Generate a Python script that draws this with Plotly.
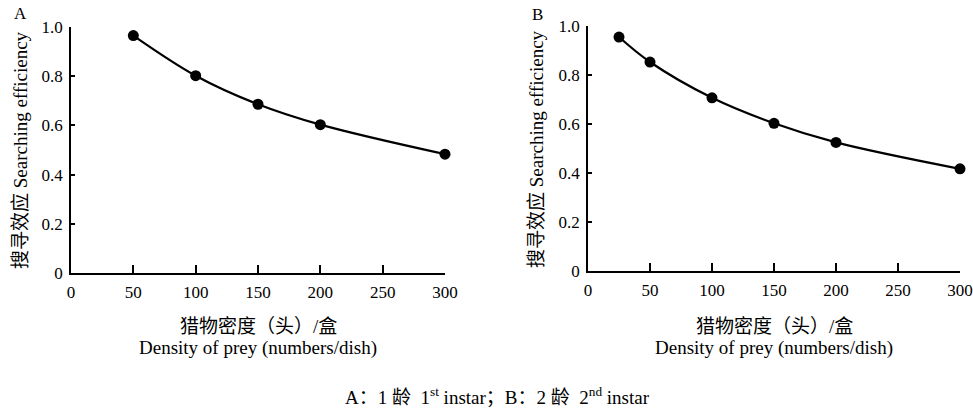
import plotly.graph_objects as go

# Data
density_a = [50, 100, 150, 200, 300]
eff_a = [0.965, 0.802, 0.686, 0.603, 0.483]
density_b = [25, 50, 100, 150, 200, 300]
eff_b = [0.955, 0.853, 0.707, 0.603, 0.525, 0.417]

x_ticks = [0, 50, 100, 150, 200, 250, 300]
y_ticks = [0, 0.2, 0.4, 0.6, 0.8, 1.0]
y_ticktext = ["0", "0.2", "0.4", "0.6", "0.8", "1.0"]

FONT = "Liberation Serif, Times New Roman, Noto Sans CJK SC, serif"

fig = go.Figure()
for xs, ys, xa, ya in [(density_a, eff_a, "x", "y"), (density_b, eff_b, "x2", "y2")]:
    fig.add_trace(go.Scatter(
        x=xs, y=ys, xaxis=xa, yaxis=ya, mode="lines+markers",
        line=dict(color="black", width=2.2, shape="spline", smoothing=1.0),
        marker=dict(color="black", size=11),
        cliponaxis=False, showlegend=False))

W, H = 973, 412
def px_x(p):
    return p / W
def px_y(p):
    return 1 - p / H

axis_common = dict(showline=True, linecolor="black", linewidth=1.5, showgrid=False,
                   zeroline=False, automargin=False, ticklabelstandoff=3,
                   tickfont=dict(family=FONT, size=17, color="black"),
                   tickcolor="black")

fig.update_layout(
    width=W, height=H, margin=dict(l=0, r=0, t=0, b=0),
    plot_bgcolor="white", paper_bgcolor="white",
    font=dict(family=FONT, color="black"),
    xaxis=dict(domain=[px_x(71), px_x(445)], range=[0, 300], tickvals=x_ticks,
               ticks="inside", ticklen=8, tickwidth=1.5, anchor="y", **axis_common),
    yaxis=dict(domain=[px_y(273), px_y(27)], range=[0, 1.0], tickvals=y_ticks,
               ticktext=y_ticktext, ticks="inside", ticklen=4, tickwidth=1.5,
               anchor="x", **axis_common),
    xaxis2=dict(domain=[px_x(588), px_x(960)], range=[0, 300], tickvals=x_ticks,
                ticks="inside", ticklen=8, tickwidth=1.5, anchor="y2", **axis_common),
    yaxis2=dict(domain=[px_y(271), px_y(26)], range=[0, 1.0], tickvals=y_ticks,
                ticktext=y_ticktext, ticks="inside", ticklen=4, tickwidth=1.5,
                anchor="x2", **axis_common),
)

ann_font = dict(family=FONT, size=19, color="black")
annotations = [
    dict(x=px_x(20), y=px_y(14), text="A", font=dict(family=FONT, size=17, color="black")),
    dict(x=px_x(537), y=px_y(15), text="B", font=dict(family=FONT, size=17, color="black")),
    dict(x=px_x(258), y=px_y(326), text="猎物密度（头）/盒"),
    dict(x=px_x(258), y=px_y(348), text="Density of prey (numbers/dish)"),
    dict(x=px_x(774), y=px_y(326), text="猎物密度（头）/盒"),
    dict(x=px_x(774), y=px_y(348), text="Density of prey (numbers/dish)"),
    dict(x=px_x(20), y=px_y(150), text="搜寻效应 Searching efficiency", textangle=-90),
    dict(x=px_x(537), y=px_y(149), text="搜寻效应 Searching efficiency", textangle=-90),
    dict(x=px_x(497), y=px_y(396),
         text="A：1 龄  1<sup>st</sup> instar；B：2 龄  2<sup>nd</sup> instar"),
]
for a in annotations:
    a.setdefault("font", ann_font)
    a.update(xref="paper", yref="paper", showarrow=False,
             xanchor="center", yanchor="middle")
fig.update_layout(annotations=annotations)

fig.write_html("out.html", config={"displayModeBar": False},
               post_script="document.body.style.margin='0';document.body.style.overflow='hidden';")
